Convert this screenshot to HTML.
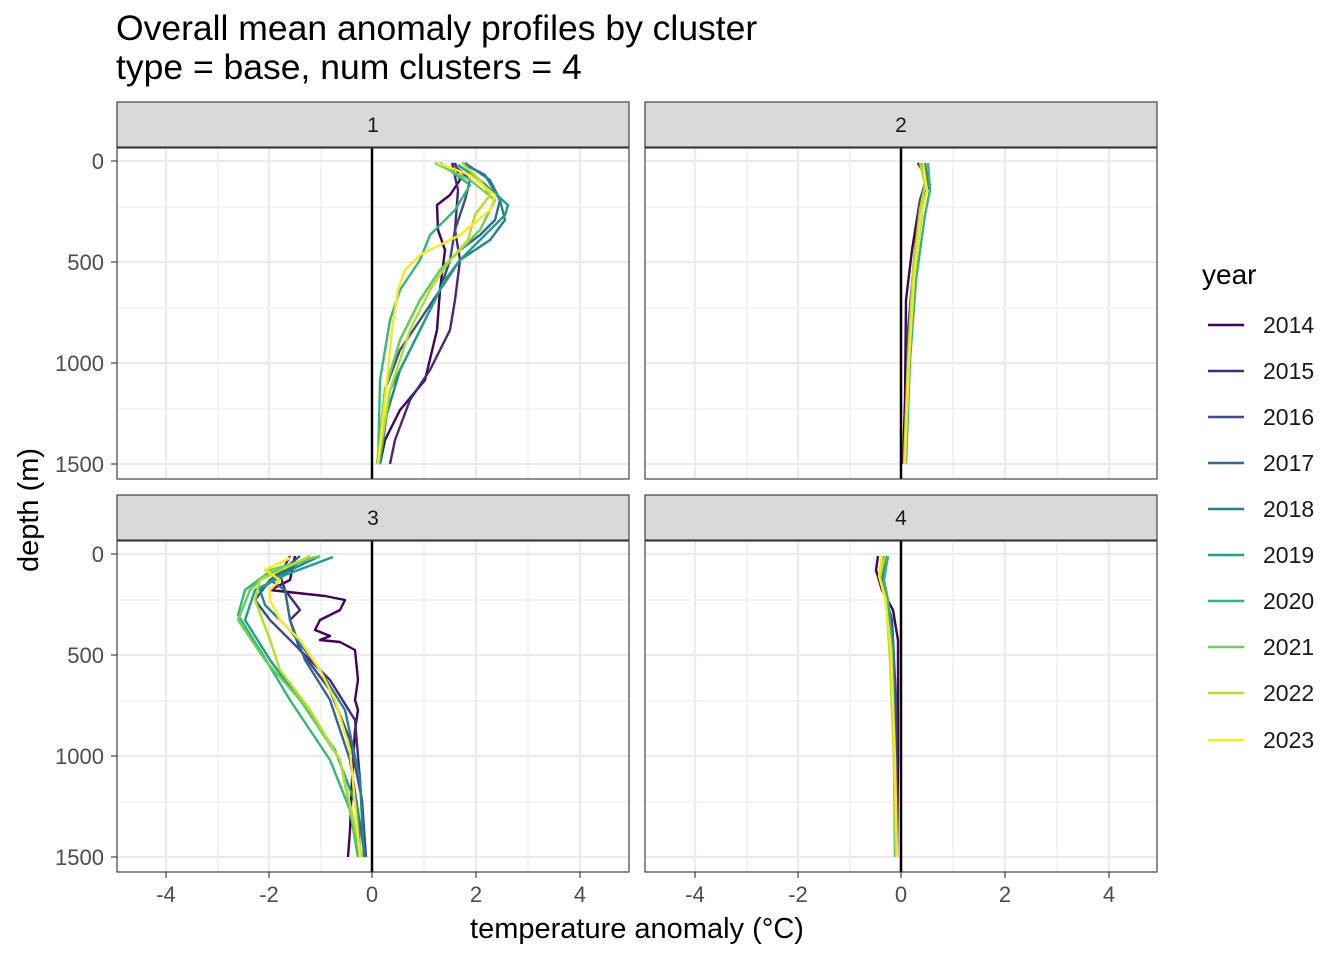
<!DOCTYPE html>
<html><head><meta charset="utf-8"><style>body{margin:0;background:#fff}svg{display:block}text{font-family:"Liberation Sans",sans-serif}</style></head><body>
<svg width="1344" height="960" viewBox="0 0 1344 960">
<defs>
<g id="grid">
<g stroke="#EBEBEB" stroke-width="1.1">
<line x1="0" x2="512" y1="59" y2="59"/><line x1="0" x2="512" y1="160" y2="160"/><line x1="0" x2="512" y1="261" y2="261"/>
<line x1="101" x2="101" y1="0" y2="331"/><line x1="204" x2="204" y1="0" y2="331"/><line x1="307" x2="307" y1="0" y2="331"/><line x1="411" x2="411" y1="0" y2="331"/></g>
<g stroke="#EBEBEB" stroke-width="2.2">
<line x1="0" x2="512" y1="13" y2="13"/><line x1="0" x2="512" y1="114" y2="114"/><line x1="0" x2="512" y1="215" y2="215"/><line x1="0" x2="512" y1="316" y2="316"/>
<line x1="49" x2="49" y1="0" y2="331"/><line x1="152" x2="152" y1="0" y2="331"/><line x1="359" x2="359" y1="0" y2="331"/><line x1="463" x2="463" y1="0" y2="331"/></g>
<line x1="255" x2="255" y1="0" y2="331" stroke="#000" stroke-width="2.5"/>
</g>
</defs>
<text x="116" y="40" font-size="35.5">Overall mean anomaly profiles by cluster</text>
<text x="116" y="79" font-size="35.5">type = base, num clusters = 4</text>
<g fill="#D9D9D9" stroke="#333" stroke-width="1.1">
<rect x="117" y="102" width="512" height="45"/><rect x="645" y="102" width="512" height="45"/>
<rect x="117" y="495" width="512" height="45"/><rect x="645" y="495" width="512" height="45"/></g>
<g font-size="21" fill="#1A1A1A" text-anchor="middle">
<text x="373" y="132">1</text><text x="901" y="132">2</text><text x="373" y="525">3</text><text x="901" y="525">4</text></g>
<use href="#grid" x="117" y="148"/><use href="#grid" x="646" y="148"/><use href="#grid" x="117" y="541"/><use href="#grid" x="646" y="541"/>
<g fill="none" stroke-width="2.4" stroke-linejoin="round">
<polyline stroke="#440154" points="455,163 460,180 450,195 437,205 438,230 445,250 440,290 437,330 425,380 400,410 385,440 380,464"/>
<polyline stroke="#482878" points="452,163 458,190 455,230 460,260 455,300 450,330 430,370 410,400 395,440 390,464"/>
<polyline stroke="#3E4A89" points="452,163 470,180 465,200 455,230 450,260 440,290 420,320 400,350 385,390 378,464"/>
<polyline stroke="#31688E" points="462,163 485,175 500,200 495,220 480,235 460,250 440,270 420,300 400,340 385,390 378,464"/>
<polyline stroke="#26828E" points="465,163 490,180 500,200 505,220 490,240 460,260 440,290 420,330 400,370 385,420 378,464"/>
<polyline stroke="#1F9E89" points="458,165 480,180 508,205 505,215 480,240 460,260 445,280 430,310 410,350 390,390 380,464"/>
<polyline stroke="#35B779" points="440,163 470,185 455,210 430,235 420,260 400,290 390,320 380,380 378,464"/>
<polyline stroke="#6DCD59" points="435,163 470,180 495,200 480,230 460,250 440,270 420,300 400,340 385,390 377,464"/>
<polyline stroke="#B4DE2C" points="462,163 480,180 490,195 475,215 468,240 450,260 430,290 410,330 390,390 378,464"/>
<polyline stroke="#FDE725" points="437,163 470,175 495,195 490,210 460,235 420,255 405,270 398,290 392,330 385,400 378,464"/>
<polyline stroke="#440154" points="918,163 925,175 930,185 920,200 912,250 906,300 905,400 903,464"/>
<polyline stroke="#3E4A89" points="922,163 926,180 920,200 914,260 908,330 905,464"/>
<polyline stroke="#26828E" points="925,163 928,185 922,210 915,270 909,350 905,464"/>
<polyline stroke="#35B779" points="928,163 930,190 925,215 916,280 910,360 906,464"/>
<polyline stroke="#B4DE2C" points="920,163 925,185 920,210 913,270 908,360 904,464"/>
<polyline stroke="#FDE725" points="923,163 927,190 921,215 914,280 909,360 905,464"/>
<polyline stroke="#440154" points="295,556 290,580 270,590 325,596 345,600 340,610 320,620 315,630 330,636 320,640 340,642 355,650 358,680 355,700 358,710 355,730 352,780 350,830 348,857"/>
<polyline stroke="#482878" points="290,556 280,575 285,590 300,610 290,620 300,650 330,680 355,720 360,780 365,857"/>
<polyline stroke="#3E4A89" points="300,556 270,580 255,600 270,620 300,650 330,690 350,740 362,800 366,857"/>
<polyline stroke="#31688E" points="310,556 270,580 285,590 290,620 305,660 330,700 350,760 365,857"/>
<polyline stroke="#26828E" points="320,556 280,575 260,590 265,605 290,630 320,670 345,710 360,780 364,857"/>
<polyline stroke="#1F9E89" points="333,557 285,575 255,590 245,620 270,660 300,700 335,750 358,810 360,857"/>
<polyline stroke="#35B779" points="315,557 265,575 245,590 238,615 260,650 290,700 330,760 350,810 358,857"/>
<polyline stroke="#6DCD59" points="320,556 270,570 250,590 238,620 265,660 300,700 340,760 360,857"/>
<polyline stroke="#B4DE2C" points="310,556 260,580 255,600 270,640 280,670 310,710 340,760 362,857"/>
<polyline stroke="#FDE725" points="290,558 265,570 280,580 270,590 270,600 280,620 300,640 320,670 335,700 350,750 360,857"/>
<polyline stroke="#440154" points="878,556 876,570 882,590 893,610 898,640 898,760 897,857"/>
<polyline stroke="#3E4A89" points="883,556 880,575 885,595 892,620 896,700 897,857"/>
<polyline stroke="#26828E" points="886,556 882,578 887,600 893,640 895,760 896,857"/>
<polyline stroke="#35B779" points="888,556 884,580 888,600 892,650 894,760 895,857"/>
<polyline stroke="#B4DE2C" points="885,556 880,578 886,600 890,660 894,760 896,857"/>
<polyline stroke="#FDE725" points="882,556 879,576 885,598 891,650 895,760 897,857"/>
</g>
<g fill="none" stroke="#333" stroke-width="1.1">
<rect x="117" y="148" width="512" height="331"/><rect x="645" y="148" width="512" height="331"/>
<rect x="117" y="541" width="512" height="331"/><rect x="645" y="541" width="512" height="331"/></g>
<g stroke="#333" stroke-width="1.1">
<line x1="111" x2="117" y1="161" y2="161"/><line x1="111" x2="117" y1="262" y2="262"/><line x1="111" x2="117" y1="363" y2="363"/><line x1="111" x2="117" y1="464" y2="464"/>
<line x1="111" x2="117" y1="554" y2="554"/><line x1="111" x2="117" y1="655" y2="655"/><line x1="111" x2="117" y1="756" y2="756"/><line x1="111" x2="117" y1="857" y2="857"/>
<line x1="166" x2="166" y1="872" y2="878"/><line x1="269" x2="269" y1="872" y2="878"/><line x1="372" x2="372" y1="872" y2="878"/><line x1="476" x2="476" y1="872" y2="878"/><line x1="580" x2="580" y1="872" y2="878"/>
<line x1="695" x2="695" y1="872" y2="878"/><line x1="798" x2="798" y1="872" y2="878"/><line x1="901" x2="901" y1="872" y2="878"/><line x1="1005" x2="1005" y1="872" y2="878"/><line x1="1109" x2="1109" y1="872" y2="878"/></g>
<g font-size="22" fill="#4D4D4D" text-anchor="end">
<text x="104" y="169">0</text><text x="104" y="270">500</text><text x="104" y="371">1000</text><text x="104" y="472">1500</text>
<text x="104" y="562">0</text><text x="104" y="663">500</text><text x="104" y="764">1000</text><text x="104" y="865">1500</text></g>
<g font-size="22" fill="#4D4D4D" text-anchor="middle">
<text x="166" y="902">-4</text><text x="269" y="902">-2</text><text x="372" y="902">0</text><text x="476" y="902">2</text><text x="580" y="902">4</text>
<text x="695" y="902">-4</text><text x="798" y="902">-2</text><text x="901" y="902">0</text><text x="1005" y="902">2</text><text x="1109" y="902">4</text></g>
<text x="637" y="938" font-size="29" text-anchor="middle">temperature anomaly (°C)</text>
<text transform="translate(38,510) rotate(-90)" font-size="29" text-anchor="middle">depth (m)</text>
<text x="1202" y="284" font-size="28">year</text>
<g stroke-width="2.4">
<line x1="1208" x2="1244" y1="325" y2="325" stroke="#440154"/>
<line x1="1208" x2="1244" y1="371" y2="371" stroke="#482878"/>
<line x1="1208" x2="1244" y1="417" y2="417" stroke="#3E4A89"/>
<line x1="1208" x2="1244" y1="463" y2="463" stroke="#31688E"/>
<line x1="1208" x2="1244" y1="509" y2="509" stroke="#26828E"/>
<line x1="1208" x2="1244" y1="555" y2="555" stroke="#1F9E89"/>
<line x1="1208" x2="1244" y1="601" y2="601" stroke="#35B779"/>
<line x1="1208" x2="1244" y1="647" y2="647" stroke="#6DCD59"/>
<line x1="1208" x2="1244" y1="693" y2="693" stroke="#B4DE2C"/>
<line x1="1208" x2="1244" y1="740" y2="740" stroke="#FDE725"/></g>
<g font-size="23" fill="#1A1A1A">
<text x="1263" y="333">2014</text><text x="1263" y="379">2015</text><text x="1263" y="425">2016</text><text x="1263" y="471">2017</text><text x="1263" y="517">2018</text>
<text x="1263" y="563">2019</text><text x="1263" y="609">2020</text><text x="1263" y="655">2021</text><text x="1263" y="701">2022</text><text x="1263" y="748">2023</text></g>
</svg>
</body></html>
